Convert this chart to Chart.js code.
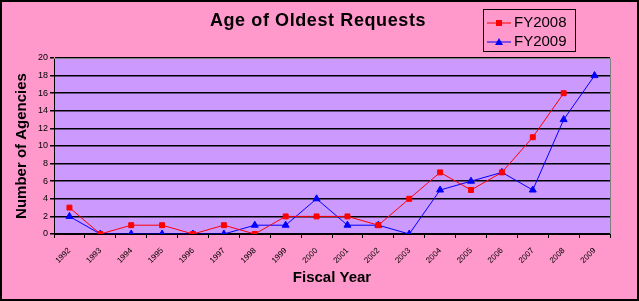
<!DOCTYPE html>
<html><head><meta charset="utf-8">
<script src="https://cdn.jsdelivr.net/npm/chart.js@4/dist/chart.umd.min.js"></script>
<style>
html,body{margin:0;padding:0;background:#FF99CC;}
#wrap{position:relative;width:639px;height:301px;}
#title{position:absolute;left:0;width:636px;top:10px;text-align:center;font:bold 18px "Liberation Sans",Arial,sans-serif;letter-spacing:0.6px;color:#000;}
#legend{position:absolute;left:483px;top:9px;width:91px;height:41px;border:1px solid #000;font:15px "Liberation Sans",Arial,sans-serif;color:#000;}
#legend .row{position:absolute;left:3px;height:16px;line-height:16px;}
#legend svg{vertical-align:middle;margin-right:3px;}
</style></head>
<body>
<div id="wrap">
<canvas id="c" width="639" height="301"></canvas>
<div id="title">Age of Oldest Requests</div>
<div id="legend">
 <div class="row" style="top:4px"><svg width="24" height="10"><line x1="0" y1="5" x2="24" y2="5" stroke="#FF0000" stroke-width="1"/><rect x="9" y="2" width="6" height="6" fill="#FF0000"/></svg>FY2008</div>
 <div class="row" style="top:23px"><svg width="24" height="10"><line x1="0" y1="5" x2="24" y2="5" stroke="#0000FF" stroke-width="1"/><polygon points="12,1 16,8 8,8" fill="#0000FF"/></svg>FY2009</div>
</div>
</div>
<script>
const categories = ["1992","1993","1994","1995","1996","1997","1998","1999","2000","2001","2002","2003","2004","2005","2006","2007","2008","2009"];
const fy2008 = [3,0,1,1,0,1,0,2,2,2,1,4,7,5,7,11,16,null];
const fy2009 = [2,0,0,0,0,0,1,1,4,1,1,0,5,6,7,5,13,18];
const yTicks = [0,2,4,6,8,10,12,14,16,18,20];

const bgPlugin = {
  id:'bg',
  beforeDraw(chart){
    const {ctx, chartArea:a} = chart;
    ctx.save();
    ctx.fillStyle = '#FF99CC';
    ctx.fillRect(0,0,chart.width,chart.height);
    ctx.fillStyle = '#CC99FF';
    ctx.fillRect(a.left,a.top,a.right-a.left,a.bottom-a.top);
    ctx.restore();
  },
  afterDraw(chart){
    const {ctx, chartArea:a} = chart;
    ctx.save();
    ctx.strokeStyle = '#808080';
    ctx.lineWidth = 1;
    ctx.beginPath();
    ctx.moveTo(a.left, a.top+0.5); ctx.lineTo(a.right+0.5, a.top+0.5); ctx.lineTo(a.right+0.5, a.bottom);
    ctx.stroke();
    ctx.strokeStyle = '#000';
    ctx.lineWidth = 2;
    ctx.strokeRect(1,1,chart.width-2,chart.height-2);
    ctx.restore();
  }
};

new Chart(document.getElementById('c'), {
  type:'line',
  data:{
    labels:categories,
    datasets:[
      {label:'FY2008', data:fy2008, borderColor:'#FF0000', backgroundColor:'#FF0000', borderWidth:1, pointStyle:'rect', pointRadius:3.5, pointHoverRadius:3.5, tension:0, spanGaps:false},
      {label:'FY2009', data:fy2009, borderColor:'#0000FF', backgroundColor:'#0000FF', borderWidth:1, pointStyle:'triangle', pointRadius:4, pointHoverRadius:4, tension:0}
    ]
  },
  plugins:[bgPlugin],
  options:{
    responsive:false, animation:false, devicePixelRatio:1,
    layout:{padding:{left:0,right:29,top:58,bottom:0}},
    plugins:{legend:{display:false}, title:{display:false}, tooltip:{enabled:false}},
    scales:{
      x:{
        offset:true,
        grid:{offset:true, drawOnChartArea:false, color:'#000', tickLength:4, tickColor:'#000'},
        border:{color:'#000', width:1},
        ticks:{maxRotation:45, minRotation:45, autoSkip:false, color:'#000', font:{family:'"Liberation Sans", Arial, sans-serif', size:8}, padding:8},
        title:{display:true, text:'Fiscal Year', color:'#000', font:{family:'"Liberation Sans", Arial, sans-serif', size:15, weight:'bold'}, padding:{top:2,bottom:14}},
        afterFit(s){ s.height = 67; }
      },
      y:{
        min:0, max:20,
        afterBuildTicks(s){ s.ticks = yTicks.map(v=>({value:v})); },
        grid:{color:'#000', lineWidth:1.5, tickLength:4, tickColor:'#000', drawTicks:true},
        border:{color:'#000', width:1},
        ticks:{color:'#000', font:{family:'"Liberation Sans", Arial, sans-serif', size:9}, padding:2},
        title:{display:true, text:'Number of Agencies', color:'#000', font:{family:'"Liberation Sans", Arial, sans-serif', size:15, weight:'bold'}, padding:{top:13,bottom:6}},
        afterFit(s){ s.width = 54; }
      }
    }
  }
});
</script>
</body></html>
